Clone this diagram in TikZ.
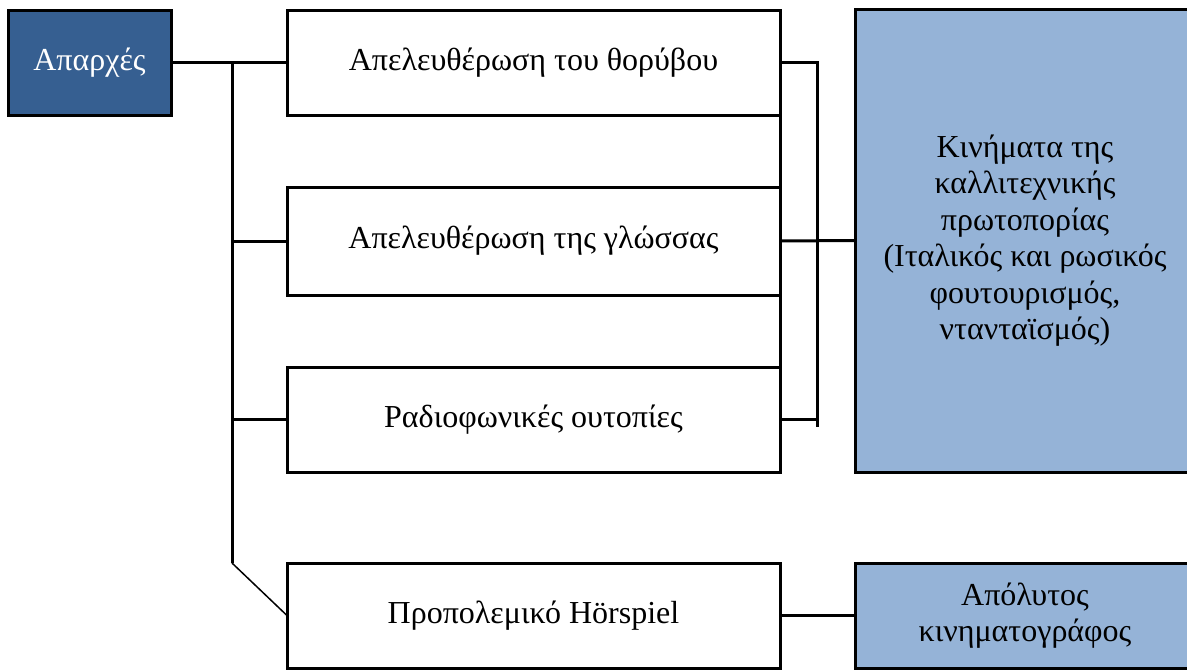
\documentclass[tikz,border=0pt]{standalone}
\usepackage{fontspec}
\setmainfont{Liberation Serif}
\definecolor{darkbox}{HTML}{365F91}
\definecolor{lightbox}{HTML}{95B3D7}
\tikzset{
  base/.style={draw=black, line width=3pt, rectangle, inner sep=0pt, outer sep=0pt,
    align=center, font=\fontsize{32}{36.5}\selectfont},
  topicbox/.style={base, fill=white, minimum width=493pt, minimum height=105pt},
  headbox/.style={base, fill=darkbox, text=white, minimum width=163pt, minimum height=105pt},
  sidebox/.style={base, fill=lightbox, minimum width=340pt},
  link/.style={draw=black, line width=3pt},
  thin link/.style={draw=black, line width=1.5pt}
}
\begin{document}
\begin{tikzpicture}[x=1pt, y=-1pt]
  \useasboundingbox (0,0) rectangle (1187,670);
  \clip (0,0) rectangle (1187,670);
  \fill[white] (0,0) rectangle (1187,670);

  % main column of topics
  \node[headbox]  (a)  at (89.5,62.5)  {Απαρχές};
  \node[topicbox] (b1) at (533.5,62.5) {Απελευθέρωση του θορύβου};
  \node[topicbox, minimum height=108pt] (b2) at (533.5,241) {Απελευθέρωση της γλώσσας};
  \node[topicbox] (b3) at (533.5,419.5) {Ραδιοφωνικές ουτοπίες};
  \node[topicbox] (b4) at (533.5,615.5) {Προπολεμικό Hörspiel};

  % outcome boxes on the right
  \node[sidebox, minimum height=463pt, anchor=west] (r1) at (855,240.5)
    {Κινήματα της\\καλλιτεχνικής\\πρωτοπορίας\\(Ιταλικός και ρωσικός\\φουτουρισμός,\\νταντα\"ισμός)};
  \node[sidebox, minimum height=105pt, anchor=west] (r2) at (855,615.5)
    {Απόλυτος\\κινηματογράφος};

  % trunk from the head box
  \coordinate (t0) at (232,62.5);
  \coordinate (t1) at (232,563);
  \draw[link] (a.east) -- (b1.west);
  \draw[link] (t0) -- (t1);
  \draw[thin link] (t1) -- (b4.west);
  \draw[link] (t0 |- b2.west) -- (b2.west);
  \draw[link] (t0 |- b3.west) -- (b3.west);

  % right side spine joining the topic boxes
  \draw[link] (b1.south east) -- (b2.north east);
  \draw[link] (b2.south east) -- (b3.north east);

  % bracket gathering the three topics
  \coordinate (k0) at (817,62.5);
  \coordinate (k1) at (817,427);
  \draw[link] (b1.east) -- (k0) -- (k1);
  \draw[link] (b3.east) -- (k0 |- b3.east);
  \draw[link] (b2.east) -- (r1.west);
  \draw[link] (b4.east) -- (r2.west);
\end{tikzpicture}
\end{document}
